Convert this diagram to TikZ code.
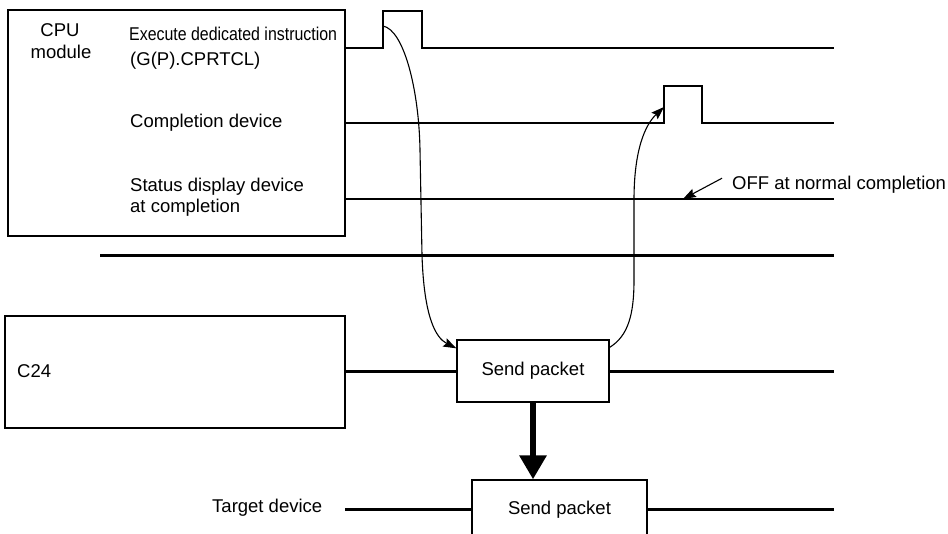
\documentclass[tikz,border=0pt]{standalone}
\usepackage{fontspec}
\usepackage{graphicx}
\setmainfont{Liberation Sans}
\usetikzlibrary{arrows.meta}
\begin{document}
\begin{tikzpicture}[x=1pt,y=-1pt,
  every node/.style={font=\fontsize{18.5}{21}\selectfont},
  lbl/.style={inner sep=0pt,anchor=base west},
  box/.style={draw,line width=1.3pt,inner sep=0pt},
  sig/.style={line width=1.3pt},
  bus/.style={line width=3pt},
  flow/.style={line width=1.1pt,-{Stealth[length=13pt,width=9pt,inset=2pt]}},
  big/.style={line width=6.5pt,-{Triangle[length=24pt,width=26pt]}}]
\useasboundingbox (0,0) rectangle (948,533);
% boxes
\node[box,minimum width=337pt,minimum height=226pt] (cpu) at (176.5,123) {};
\node[box,minimum width=340pt,minimum height=112pt] (c24) at (175,372) {};
\node[box,minimum width=152pt,minimum height=62pt] (sp1) at (533,371) {Send packet};
\node[box,minimum width=175pt,minimum height=60pt] (sp2) at (559.5,510) {Send packet};
% texts
\node[inner sep=0pt,anchor=base] (tcpu) at (60,36) {CPU};
\node[inner sep=0pt,anchor=base] (tmod) at (61,58) {module};
\node[lbl] (texe) at (129,40) {\scalebox{0.86}[1]{Execute dedicated instruction}};
\node[lbl] (tgp) at (130,65) {(G(P).CPRTCL)};
\node[lbl] (tcomp) at (130,127) {Completion device};
\node[lbl] (tstat) at (130,191) {Status display device};
\node[lbl] (tat) at (130,212) {at completion};
\node[lbl] (toff) at (732,189) {OFF at normal completion};
\node[lbl] (tc24) at (17,377) {C24};
\node[lbl] (ttgt) at (212,512) {Target device};
% signal lines
\coordinate (p1) at (383,26);
\coordinate (p2) at (664,107);
\coordinate (p3) at (683,199);
\draw[sig] (345,48) -- (383,48) -- (383,11) -- (422,11) -- (422,48) -- (834,48);
\draw[sig] (345,123) -- (664,123) -- (664,86) -- (702,86) -- (702,123) -- (834,123);
\draw[sig] (345,199) -- (834,199);
\draw[bus] (100,255) -- (834,255);
\draw[bus] (c24.east |- sp1.west) -- (sp1.west);
\draw[bus] (sp1.east) -- (834,371);
\draw[bus] (345,509) -- (sp2.west |- 0,509);
\draw[bus] (sp2.east |- 0,509) -- (834,509);
% flows
\draw[flow] (p1) .. controls (404,30) and (419,90) .. (420,150) -- (422,255)
  .. controls (424,318) and (436,338) .. ([yshift=-9pt]sp1.north west);
\draw[flow] ([yshift=-8pt]sp1.north east) .. controls (628,336) and (634,315) .. (634,280)
  -- (634,200) .. controls (634,150) and (645,125) .. (p2);
\draw[line width=1.1pt,-{Stealth[length=13pt,width=9pt,inset=2pt]}] (toff.west) ++(-10,-6) coordinate (o1) -- (p3);
\draw[big] (sp1.south) -- (sp1.south |- sp2.north);
\end{tikzpicture}
\end{document}
